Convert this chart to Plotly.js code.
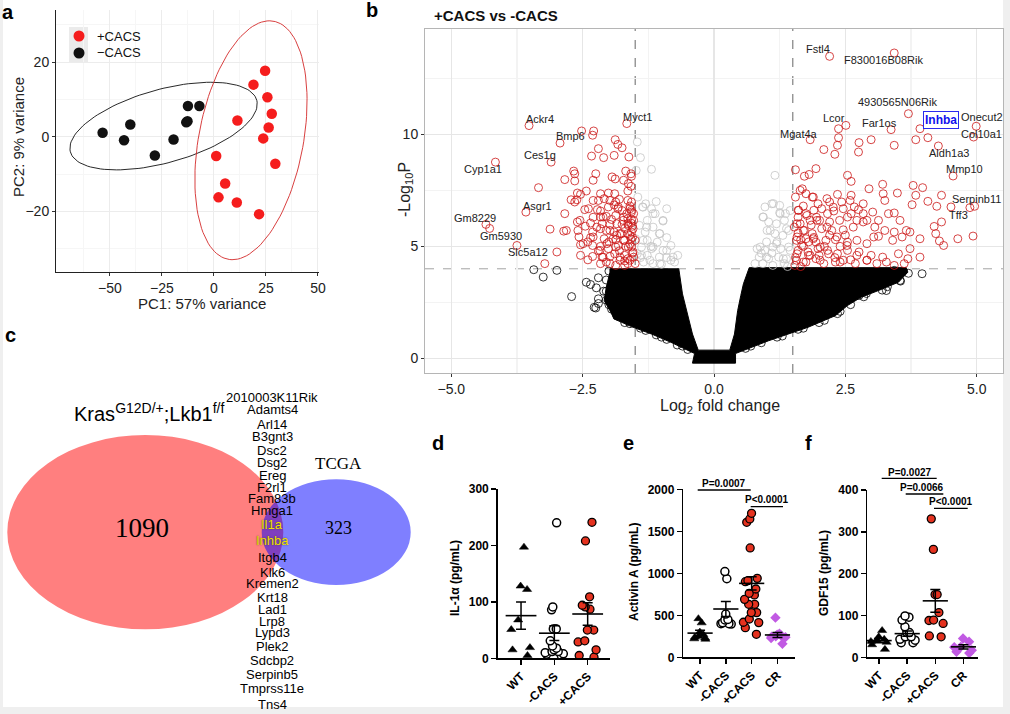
<!DOCTYPE html>
<html><head><meta charset="utf-8">
<script src="https://cdn.plot.ly/plotly-3.0.1.min.js"></script>
<style>html,body{margin:0;padding:0;background:#efefef}#chart{width:1010px;height:714px}</style>
</head><body><div id="chart"></div>
<script>
// ---------- Panel a : PCA ----------
const pcaPlusX  = [24.6, 19.0, 25.7, 27.8, 26.3, 23.7, 11.3, 1.1, 29.5, 5.4, 2.2, 11.0, 21.7];
const pcaPlusY  = [17.7, 14.0, 10.6, 6.2, 2.5, -0.4, 4.4, -5.1, -7.2, -12.5, -16.2, -17.6, -20.7];
const pcaMinusX = [-53.5, -43.2, -40.2, -28.4, -19.4, -13.3, -12.7, -12.5, -7.0];
const pcaMinusY = [1.1, -0.9, 3.3, -5.0, -0.7, 3.9, 4.2, 8.3, 8.3];
// confidence ellipses: centre and two conjugate semi-axes
const ellMinus = {c:[-24.2, 2.9], u:[44.8, 6.9], v:[-4.5, 9.5]};
const ellPlus  = {c:[17.8, -0.9], u:[11.7, 31.8], v:[24.3, -3.6]};

// ---------- Panel b : volcano ----------
const redLeftLFC = [-2.52,-2.29,-2.31,-1.88,-1.83,-1.75,-2.20,-2.33,-2.10,-1.90,
 -1.62,-1.68,-1.58,-1.57,-2.67,-2.65,-2.25,-2.84,-2.65,-2.30,
 -1.94,-1.88,-1.72,-1.63,-1.58,-3.34,-2.60,-2.43,-2.16,-2.01,
 -1.89,-1.64,-2.72,-2.61,-2.54,-2.65,-2.30,-2.20,-2.09,-1.98,
 -1.87,-1.64,-1.57,-2.46,-2.39,-2.22,-2.16,-2.01,-1.83,-1.60,
 -1.57,-1.53,-2.84,-2.16,-2.05,-1.87,-1.72,-1.64,-1.57,-2.60,
 -2.35,-2.13,-1.98,-1.75,-1.64,-1.58,-1.53,-3.12,-2.86,-2.59,
 -2.31,-2.16,-2.05,-1.90,-1.79,-1.64,-1.57,-2.57,-2.35,-2.09,
 -1.87,-1.72,-1.58,-2.54,-2.31,-2.16,-2.01,-1.87,-1.68,-1.57,
 -2.99,-2.54,-2.31,-2.13,-1.98,-1.79,-1.64,-1.53,-3.22,-2.16,
 -1.87,-1.64,-1.75,-1.95,-1.70,-1.85,-2.00,-1.60,-1.80,-2.20,
 -1.70,-2.40,-2.05,-1.60,-1.80,-2.30,-2.45,-2.40,-1.55,-1.55,-1.55,-1.90];
const redLeftP = [10.15,10.15,9.96,9.76,9.55,9.40,9.36,9.03,8.96,9.06,
 8.99,8.36,8.24,8.13,8.36,8.24,8.24,7.98,7.92,7.95,
 8.10,8.01,7.95,7.80,7.68,7.62,7.38,7.47,7.35,7.38,
 7.35,7.47,7.08,7.08,7.32,6.98,7.05,7.05,7.13,7.05,
 6.98,7.05,6.98,6.64,6.68,6.64,6.58,6.76,6.68,6.68,
 6.53,6.46,6.46,6.31,6.34,6.38,6.31,6.24,6.19,6.09,
 6.04,6.01,5.98,5.98,6.01,6.04,6.16,5.77,5.68,5.71,
 5.64,5.79,5.71,5.64,5.57,5.57,5.64,5.42,5.39,5.34,
 5.30,5.27,5.34,5.07,5.04,5.00,4.90,4.97,5.00,4.97,
 4.75,4.60,4.55,4.52,4.55,4.52,4.45,4.52,4.23,4.23,
 4.15,4.23,6.60,6.20,5.80,5.50,5.20,5.10,4.80,4.80,
 4.35,4.40,4.30,6.80,7.10,6.30,5.90,5.20,5.90,5.40,4.70,6.85];
const redLeftDenseLFC = [-1.66,-1.57,-1.73,-1.85,-1.63,-1.54,-1.98,-1.76,-1.60,-1.92,-1.70,-1.50,-2.04,-1.82,-1.63,-1.54,
 -1.89,-1.70,-2.11,-1.79,-1.60,-1.98,-1.50,-1.70,-2.17,-2.30,-2.23,-2.11,-1.82,-2.55,-2.49,-2.81];
const redLeftDenseP = [6.46,6.61,6.16,6.01,5.94,5.79,5.71,5.57,5.49,5.34,5.27,5.27,5.12,5.04,4.97,4.75,
 4.67,4.60,4.52,4.38,4.38,4.23,4.23,4.15,4.82,5.42,5.86,6.31,6.75,6.16,5.12,5.71];
const redRightLFC = [1.55,1.72,1.81,1.94,2.09,2.30,2.35,2.37,2.37,2.54,2.61,2.75,2.76,2.99,3.43,3.84,4.07,
 1.68,1.75,1.87,1.98,2.15,2.20,2.35,2.43,2.61,2.67,2.84,2.95,3.21,3.22,3.25,3.49,3.79,3.97,3.84,4.07,4.33,4.24,3.77,4.51,
 1.60,1.75,1.90,2.05,2.16,2.28,2.46,2.61,2.75,3.02,3.32,3.43,3.54,3.13,2.91,2.72,2.54,2.39,2.20,2.01,1.83,1.64,1.53,1.72,1.87,2.05,2.24,2.46,2.65,2.84,3.06,3.25,3.43,3.66,3.73,3.92,4.19,4.33,4.22,4.29,4.37,4.64,4.93,
 1.57,1.75,1.94,2.13,2.31,2.54,2.72,2.91,3.13,3.40,3.58,3.73,1.60,1.79,1.98,2.16,2.35,2.54,2.76,2.99,3.21,3.51,3.69,3.92,1.57,1.75,1.94,2.09,2.31,2.46,2.69,2.91,3.10,3.28,3.43,3.62,
 1.60,1.70,1.55,1.65,1.80,1.90,2.00,1.85,1.60,1.70,1.55,2.10,2.20,2.40,2.30,1.65,1.95,1.80,2.50,2.60];
const redRightP = [8.42,8.13,8.21,8.47,9.32,9.11,9.51,9.85,10.25,8.17,7.90,9.21,9.63,9.76,9.51,9.76,9.85,
 7.57,7.35,7.20,6.90,7.13,6.98,7.32,6.98,7.28,6.76,6.90,7.57,7.77,7.35,7.05,7.38,7.72,7.62,7.28,7.01,7.28,6.79,6.86,6.76,
 6.61,6.46,6.61,6.68,6.46,6.58,6.68,6.46,6.64,6.53,6.46,6.49,6.16,6.16,6.16,6.16,6.31,6.16,6.09,6.16,6.16,6.01,5.86,5.71,5.57,5.79,5.71,5.74,5.86,6.09,5.86,5.71,5.64,5.71,5.64,5.34,5.89,6.09,5.57,5.24,5.04,5.34,5.46,
 5.27,5.34,5.19,5.27,5.30,5.19,5.27,5.12,5.45,5.27,5.42,4.90,4.82,4.75,4.90,4.82,4.67,4.82,4.75,4.60,4.52,4.67,4.45,4.52,4.38,4.30,4.45,4.23,4.30,4.38,4.23,4.38,4.23,4.30,4.15,4.23,
 5.60,5.00,4.50,4.10,4.60,5.40,4.60,5.95,6.30,6.80,7.20,5.00,5.50,5.00,4.50,5.30,6.30,5.20,5.50,4.40];
const redRightDenseLFC = [1.61,1.77,1.58,1.96,1.70,2.15,1.58,1.89,2.34,1.67,2.02,2.53,1.58,1.83,2.18,2.72,1.70,2.02,2.40,2.91,1.54,2.27,2.59,2.84,3.04,1.64,1.89];
const redRightDenseP = [6.61,6.38,6.01,6.16,5.71,5.86,5.42,5.34,5.42,5.04,4.97,5.04,4.67,4.60,4.67,4.60,4.30,4.38,4.30,4.38,4.15,6.75,7.05,6.46,5.42,7.50,7.20];
const labelGenes = ['Fstl4','F830016B08Rik','4930565N06Rik','Inhba','Onecut2','Col10a1','Aldh1a3','Mmp10','Serpinb11','Tff3','Lcor','Far1os','Mgat4a',
 'Myct1','Ackr4','Bmp6','Ces1g','Cyp1a1','Asgr1','Gm8229','Gm5930','Slc5a12'];
const labelLFC = [2.20,3.43,3.70,3.92,4.99,4.94,4.27,4.55,4.96,4.87,2.51,3.37,1.83,
 -1.66,-3.52,-2.93,-3.10,-4.16,-3.58,-4.34,-4.27,-3.75];
const labelP = [13.48,13.63,10.92,10.25,10.36,9.88,9.48,8.14,6.79,6.73,10.40,10.21,9.76,
 10.48,10.39,9.61,8.76,8.76,6.53,5.98,5.80,5.04];
const greyLFC = [-1.46,-1.40,-1.19,-1.48,-1.36,-1.19,-0.90,-1.12,-1.27,-0.97,-1.42,-1.16,-1.31,-1.04,-1.49,-1.27,-1.08,-0.90,-1.38,-1.19,-0.97,-0.82,-1.46,-1.27,-1.04,-0.69,-0.82,-1.34,-1.16,
 -1.30,-1.10,-1.45,-1.20,-1.00,-0.90,-1.40,-0.75,
 -1.35,-1.16,-0.97,-1.28,-1.03,-1.35,-1.16,-0.90,-1.38,-1.22,-1.03,-0.78,
 1.16,1.10,0.97,1.25,1.36,0.93,1.04,1.19,1.34,1.01,1.16,1.31,1.42,0.82,0.97,1.12,1.27,1.42,0.86,1.04,1.23,1.38,0.93,1.12,1.34,
 1.00,1.20,1.45,1.25,0.90,1.40,1.10,
 1.13,0.94,1.26,1.07,1.38,0.88,1.19,1.45,1.00,1.32,0.78];
const greyP = [9.66,8.96,8.44,8.39,6.76,6.68,6.68,6.46,6.16,6.13,5.94,5.86,5.64,5.57,5.34,5.27,5.19,5.39,4.97,4.90,4.82,5.04,4.67,4.60,4.52,4.60,4.38,4.30,4.23,
 6.90,7.00,7.20,5.00,4.20,4.50,4.50,4.30,
 6.75,6.46,6.16,5.86,5.57,5.27,4.97,4.82,4.60,4.38,4.23,4.52,
 8.17,6.90,6.76,6.83,6.46,6.31,6.09,6.01,6.16,5.71,5.57,5.49,5.71,4.90,4.82,4.97,4.90,4.97,4.52,4.45,4.52,4.45,4.23,4.15,4.23,
 5.20,5.20,6.60,6.50,4.70,4.10,4.70,
 6.91,6.31,6.46,5.71,5.79,4.97,5.12,4.82,4.52,4.45,4.23];
const blackLFC = [-3.43,-3.25,-2.99,-2.71,-2.43,-2.24,-2.28,-2.20,3.96,3.28,3.13,3.54,3.43,2.91,2.61,2.76,
 -1.70,-1.40,-1.00,-0.60,0.70,1.20,1.60,2.00,2.40,2.90,3.30,-2.00,-2.05,-2.20,-2.35,-2.20,-2.25,
 -2.00,-2.05,-2.10,-2.05,-1.95,-1.85,-1.60,-1.30,-1.10,-0.90,-0.70,-0.50,
 0.60,0.90,1.30,1.70,2.10,2.35,2.60,2.85,3.20,3.55,3.70];
const blackP = [3.96,3.63,3.93,2.76,3.40,3.15,2.28,2.66,3.78,3.03,3.25,3.48,3.93,3.63,3.03,2.81,
 1.60,1.35,0.95,0.55,0.55,0.95,1.30,1.60,2.10,2.90,3.20,2.40,3.00,3.60,3.30,2.45,2.25,
 3.90,3.50,3.00,2.60,2.20,1.90,1.55,1.25,1.05,0.85,0.60,0.40,
 0.45,0.70,1.00,1.35,1.70,2.00,2.40,2.75,3.05,3.45,3.80];
// envelope of the dense black (non-significant) cloud
const coreLFC = [-1.98,-0.67,-0.60,-0.49,-0.41,-0.30,0.30,0.39,0.45,0.51,0.56,0.67,3.66,3.69,3.51,3.13,2.80,2.54,2.31,1.79,1.04,0.41,0.41,-0.41,-0.37,-0.82,-1.19,-1.57,-1.90,-1.98,-2.09,-2.05,-1.98];
const coreP   = [4.00,4.00,2.88,1.84,1.09,0.37,0.37,1.09,2.13,2.81,3.33,4.05,4.05,3.85,3.40,3.03,2.73,2.36,1.91,1.39,0.79,0.22,-0.21,-0.21,0.22,0.72,1.09,1.42,1.76,2.13,2.58,3.18,3.85];

// ---------- Panel c : Venn ----------
const vennLeftCount = 1090, vennRightCount = 323;
const sharedGenes = ['2010003K11Rik','Adamts4','Arl14','B3gnt3','Dsc2','Dsg2','Ereg','F2rl1','Fam83b','Hmga1','Il1a','Inhba',
 'Itgb4','Klk6','Kremen2','Krt18','Lad1','Lrp8','Lypd3','Plek2','Sdcbp2','Serpinb5','Tmprss11e','Tns4'];
const highlightGenes = ['Il1a','Inhba'];

// ---------- Panels d, e, f ----------
const il1aCats = ['WT','-CACS','+CACS'];
const il1aWT = [197,128,122,68,51,19,15,5];
const il1aMinus = [240,91,86,52,52,52,31,22,18,15,12,12,10,8,7,5];
const il1aPlus = [241,208,109,94,91,87,50,50,31,29,15,5,2];
const il1aMean = [75.6,44.5,78.5];
const il1aSem  = [24,13,20];

const cats4 = ['WT','-CACS','+CACS','CR'];
const actWT = [460,410,300,270,250,240,230,220,215];
const actMinus = [1020,935,515,450,445,410,400,395,400];
const actPlus = [1714,1647,1607,1302,940,913,900,813,762,742,690,631,631,532,532,456,417,413,353,274];
const actCR = [472,280,270,260,250,245,240,230,160];
const actMean = [288,575,880,266];
const actSem  = [35,88,80,30];

const gdfWT = [64,49,43,41,38,36,30,19];
const gdfMinus = [99,96,89,73,59,59,49,49,43,41,35,35];
const gdfPlus = [331,258,150,150,107,89,88,81,51,49];
const gdfCR = [45,37,25,24,17,13,10];
const gdfMean = [40,56.6,135,25];
const gdfSem  = [5,6,27,5];

// ================= drawing =================
const W = 1010, H = 714;
const px = x => x / W, py = y => 1 - y / H;
const FONT = 'Liberation Sans, Arial, sans-serif';
const RED = '#e5321f', PURPLE = '#c15ae3';

function ellipse(e, n) {
  const xs = [], ys = [];
  for (let i = 0; i <= n; i++) {
    const t = 2 * Math.PI * i / n;
    xs.push(e.c[0] + Math.cos(t) * e.u[0] + Math.sin(t) * e.v[0]);
    ys.push(e.c[1] + Math.cos(t) * e.u[1] + Math.sin(t) * e.v[1]);
  }
  return {xs, ys};
}
const eM = ellipse(ellMinus, 120), eP = ellipse(ellPlus, 120);

const traces = [];
// panel a
traces.push({type:'scatter', mode:'lines', x:eM.xs, y:eM.ys, xaxis:'x', yaxis:'y', line:{color:'#111', width:0.9}, hoverinfo:'skip', showlegend:false});
traces.push({type:'scatter', mode:'lines', x:eP.xs, y:eP.ys, xaxis:'x', yaxis:'y', line:{color:'#d42a2a', width:0.9}, hoverinfo:'skip', showlegend:false});
traces.push({type:'scatter', mode:'markers', x:pcaMinusX, y:pcaMinusY, xaxis:'x', yaxis:'y', marker:{color:'#111', size:10.5}, showlegend:false});
traces.push({type:'scatter', mode:'markers', x:pcaPlusX, y:pcaPlusY, xaxis:'x', yaxis:'y', marker:{color:'#f51d1d', size:10.5}, showlegend:false});

// panel b
traces.push({type:'scatter', mode:'lines', x:coreLFC.concat([coreLFC[0]]), y:coreP.concat([coreP[0]]), fill:'toself', fillcolor:'#000', line:{color:'#000', width:1}, xaxis:'x2', yaxis:'y2', hoverinfo:'skip', showlegend:false});
const openM = (c) => ({symbol:'circle-open', size:8, color:c, line:{width:0.8, color:c}});
traces.push({type:'scatter', mode:'markers', x:greyLFC, y:greyP, xaxis:'x2', yaxis:'y2', marker:openM('#c4c4c4'), showlegend:false});
traces.push({type:'scatter', mode:'markers', x:blackLFC, y:blackP, xaxis:'x2', yaxis:'y2', marker:openM('#000'), showlegend:false});
traces.push({type:'scatter', mode:'markers',
  x:redLeftLFC.concat(redLeftDenseLFC, redRightLFC, redRightDenseLFC, labelLFC),
  y:redLeftP.concat(redLeftDenseP, redRightP, redRightDenseP, labelP),
  xaxis:'x2', yaxis:'y2', marker:openM('#cc1616'), showlegend:false});

// panels d,e,f
function strip(ax, cat, vals, kind) {
  const styles = {
    tri:{symbol:'triangle-up', size:8, color:'#000', line:{color:'#000', width:0.5}},
    open:{symbol:'circle', size:8, color:'#fff', line:{color:'#000', width:1.5}},
    red:{symbol:'circle', size:8, color:RED, line:{color:'#000', width:1.3}},
    cr:{symbol:'diamond', size:8, color:PURPLE, line:{color:PURPLE, width:0}}
  };
  return {type:'box', x:vals.map(() => cat), y:vals, xaxis:'x'+ax, yaxis:'y'+ax, boxpoints:'all', jitter:1, pointpos:0,
    width:0.8, fillcolor:'rgba(0,0,0,0)', line:{color:'rgba(0,0,0,0)', width:0}, whiskerwidth:0,
    marker:styles[kind], hoverinfo:'skip', showlegend:false};
}
function meanSem(ax, cats, mean, sem, size) {
  return {type:'scatter', mode:'markers', x:cats, y:mean, xaxis:'x'+ax, yaxis:'y'+ax, cliponaxis:false,
    marker:{symbol:'line-ew-open', size:size, color:'#000', line:{width:1.6, color:'#000'}},
    error_y:{type:'data', array:sem, visible:true, width:5, thickness:1.5, color:'#000'}, hoverinfo:'skip', showlegend:false};
}
traces.push(strip(3,'WT',il1aWT,'tri'), strip(3,'-CACS',il1aMinus,'open'), strip(3,'+CACS',il1aPlus,'red'));
traces.push(meanSem(3, il1aCats, il1aMean, il1aSem, 22));
traces.push(strip(4,'WT',actWT,'tri'), strip(4,'-CACS',actMinus,'open'), strip(4,'+CACS',actPlus,'red'), strip(4,'CR',actCR,'cr'));
traces.push(meanSem(4, cats4, actMean, actSem, 18));
traces.push(strip(5,'WT',gdfWT,'tri'), strip(5,'-CACS',gdfMinus,'open'), strip(5,'+CACS',gdfPlus,'red'), strip(5,'CR',gdfCR,'cr'));
traces.push(meanSem(5, cats4, gdfMean, gdfSem, 18));

// ---------- axes ----------
const axA = {showline:true, linecolor:'#222', linewidth:1, ticks:'outside', ticklen:3, tickcolor:'#333', zeroline:false,
  showgrid:true, gridcolor:'#ececec', tickfont:{family:FONT, size:14, color:'#222'}};
const axB = {showline:true, mirror:true, linecolor:'#b5b5b5', linewidth:1, ticks:'outside', ticklen:3, tickcolor:'#333', zeroline:false,
  showgrid:true, gridcolor:'#e6e6e6', gridwidth:1.2, tickfont:{family:FONT, size:14, color:'#222'}};
const axCatX = {type:'category', showline:true, linecolor:'#000', linewidth:1.5, ticks:'outside', ticklen:5, tickwidth:1.5, tickcolor:'#000',
  showgrid:false, zeroline:false, tickangle:-45, tickfont:{family:FONT, size:12, color:'#000', weight:'bold'}};
const axValY = {showline:true, linecolor:'#000', linewidth:1.5, ticks:'outside', ticklen:5, tickwidth:1.5, tickcolor:'#000',
  showgrid:false, zeroline:false, tickfont:{family:FONT, size:12, color:'#000', weight:'bold'}};

const layout = {
  width:W, height:H, margin:{l:0, r:0, t:0, b:0}, paper_bgcolor:'#efefef', plot_bgcolor:'rgba(0,0,0,0)',
  boxmode:'overlay', showlegend:false, font:{family:FONT},
  xaxis: Object.assign({}, axA, {domain:[px(56), px(319)], range:[-75.9, 50.5], tickvals:[-50,-25,0,25,50], anchor:'y',
    minor:{showgrid:true, gridcolor:'#f6f6f6', tickvals:[-62.5,-37.5,-12.5,12.5,37.5], ticks:''}}),
  yaxis: Object.assign({}, axA, {domain:[py(272), py(10)], range:[-36.2, 34], tickvals:[-20,0,20], anchor:'x',
    minor:{showgrid:true, gridcolor:'#f6f6f6', tickvals:[-30,-10,10,30], ticks:''}}),
  xaxis2: Object.assign({}, axB, {domain:[px(425), px(1003)], range:[-5.5, 5.5], tickvals:[-5,-2.5,0,2.5,5], tickformat:'.1f', anchor:'y2',
    minor:{showgrid:true, gridcolor:'#f3f3f3', tickvals:[-3.75,-1.25,1.25,3.75], ticks:''}}),
  yaxis2: Object.assign({}, axB, {domain:[py(373), py(29)], range:[-0.65, 14.7], tickvals:[0,5,10], anchor:'x2',
    minor:{showgrid:true, gridcolor:'#f3f3f3', tickvals:[2.5,7.5,12.5], ticks:''}}),
  xaxis3: Object.assign({}, axCatX, {domain:[px(497.7), px(610)], categoryorder:'array', categoryarray:il1aCats, range:[-0.7, 2.67], anchor:'y3'}),
  yaxis3: Object.assign({}, axValY, {domain:[py(658.3), py(489)], range:[0, 300], tickvals:[0,100,200,300], anchor:'x3'}),
  xaxis4: Object.assign({}, axCatX, {domain:[px(683.3), px(795)], categoryorder:'array', categoryarray:cats4, range:[-0.65, 3.68], anchor:'y4'}),
  yaxis4: Object.assign({}, axValY, {domain:[py(657.3), py(489.3)], range:[0, 2000], tickvals:[0,500,1000,1500,2000], anchor:'x4'}),
  xaxis5: Object.assign({}, axCatX, {domain:[px(867.3), px(978.3)], categoryorder:'array', categoryarray:cats4, range:[-0.42, 3.53], anchor:'y5'}),
  yaxis5: Object.assign({}, axValY, {domain:[py(657.3), py(490)], range:[0, 400], tickvals:[0,100,200,300,400], anchor:'x5'}),
  shapes: [], annotations: []
};
const S = layout.shapes, A = layout.annotations;

// white figure sheet
S.push({type:'rect', xref:'paper', yref:'paper', x0:px(3), x1:px(1003), y0:py(707), y1:py(0), fillcolor:'#fff', line:{width:0}, layer:'below'});
// panel a legend
S.push({type:'rect', xref:'paper', yref:'paper', x0:px(69), x1:px(88), y0:py(63), y1:py(27), fillcolor:'#ebebeb', line:{width:0}, layer:'below'});
S.push({type:'circle', xref:'paper', yref:'paper', x0:px(73.5), x1:px(84.5), y0:py(41.5), y1:py(30.5), fillcolor:'#f51d1d', line:{width:0}});
S.push({type:'circle', xref:'paper', yref:'paper', x0:px(73.5), x1:px(84.5), y0:py(58.5), y1:py(47.5), fillcolor:'#111', line:{width:0}});
A.push({xref:'paper', yref:'paper', x:px(95), y:py(36), text:'+CACS', showarrow:false, xanchor:'left', yanchor:'middle', font:{family:FONT, size:13, color:'#111'}});
A.push({xref:'paper', yref:'paper', x:px(95), y:py(53), text:'\u2212CACS', showarrow:false, xanchor:'left', yanchor:'middle', font:{family:FONT, size:13, color:'#111'}});
A.push({xref:'paper', yref:'paper', x:px(202), y:py(303), text:'PC1: 57% variance', showarrow:false, font:{family:FONT, size:15, color:'#222'}});
A.push({xref:'paper', yref:'paper', x:px(18), y:py(137), text:'PC2: 9% variance', textangle:-90, showarrow:false, font:{family:FONT, size:15, color:'#222'}});

// panel b thresholds & titles
S.push({type:'line', xref:'x2', yref:'y2 domain', x0:-1.5, x1:-1.5, y0:0, y1:1, line:{color:'#555', width:0.9, dash:'dash'}, layer:'below'});
S.push({type:'line', xref:'x2', yref:'y2 domain', x0:1.5, x1:1.5, y0:0, y1:1, line:{color:'#555', width:0.9, dash:'dash'}, layer:'below'});
S.push({type:'line', xref:'x2 domain', yref:'y2', x0:0, x1:1, y0:4, y1:4, line:{color:'#999', width:0.9, dash:'dash'}, layer:'below'});
A.push({xref:'paper', yref:'paper', x:px(432), y:py(15), text:'<b>+CACS vs -CACS</b>', showarrow:false, xanchor:'left', yanchor:'middle', font:{family:FONT, size:15, color:'#111'}});
A.push({xref:'paper', yref:'paper', x:px(406), y:py(190), text:'-Log<sub>10</sub>P', textangle:-90, showarrow:false, font:{family:FONT, size:16, color:'#222'}});
A.push({xref:'paper', yref:'paper', x:px(720), y:py(406), text:'Log<sub>2</sub> fold change', showarrow:false, font:{family:FONT, size:16, color:'#222'}});
const labelShift = {
  'Fstl4':[-12,7],'F830016B08Rik':[-11,-7],'4930565N06Rik':[-11,12],'Inhba':[21,9],'Onecut2':[6,9],'Col10a1':[8,3],
  'Aldh1a3':[11,-7],'Mmp10':[11,7],'Serpinb11':[2,7],'Tff3':[-11,-7],'Lcor':[-12,7],'Far1os':[-12,7],'Mgat4a':[-11,6],
  'Myct1':[11,7],'Ackr4':[11,7],'Bmp6':[10,7],'Ces1g':[-11,7],'Cyp1a1':[-12,-7],'Asgr1':[12,6],'Gm8229':[-11,6],
  'Gm5930':[11,-8],'Slc5a12':[11,-7]};
labelGenes.forEach((g, i) => {
  const sh = labelShift[g];
  const a = {xref:'x2', yref:'y2', x:labelLFC[i], y:labelP[i], text:g, showarrow:false, xshift:sh[0], yshift:sh[1],
    font:{family:FONT, size:11, color:'#222'}};
  if (g === 'Inhba') {
    a.text = '<b>Inhba</b>'; a.font = {family:FONT, size:12, color:'#1010ee'};
    a.bordercolor = '#2a2aee'; a.borderwidth = 1; a.borderpad = 1; a.bgcolor = '#fff';
  }
  A.push(a);
});

// panel c venn
S.push({type:'circle', xref:'paper', yref:'paper', x0:px(7.3), x1:px(283.3), y0:py(629.3), y1:py(435), fillcolor:'rgba(255,0,0,0.5)', line:{width:0}});
S.push({type:'circle', xref:'paper', yref:'paper', x0:px(261.7), x1:px(410.7), y0:py(585), y1:py(479.3), fillcolor:'rgba(0,0,255,0.5)', line:{width:0}});
A.push({xref:'paper', yref:'paper', x:px(149), y:py(427), yanchor:'bottom', text:'Kras<sup>G12D/+</sup>;Lkb1<sup>f/f</sup>', showarrow:false, font:{family:FONT, size:20, color:'#000'}});
A.push({xref:'paper', yref:'paper', x:px(142), y:py(528), text:String(vennLeftCount), showarrow:false, font:{family:'Liberation Serif, Times New Roman, serif', size:27, color:'#000'}});
A.push({xref:'paper', yref:'paper', x:px(338), y:py(528), text:String(vennRightCount), showarrow:false, font:{family:'Liberation Serif, Times New Roman, serif', size:18, color:'#000'}});
A.push({xref:'paper', yref:'paper', x:px(338), y:py(463), text:'TCGA', showarrow:false, font:{family:'Liberation Serif, Times New Roman, serif', size:17, color:'#000'}});
const geneRowY = [397,409.5,424,436.7,450,462.7,475,487.3,499,510,524,540.7,557.3,572.3,583.3,597.7,609.3,621.7,632.7,646,660,674,688.3,704];
sharedGenes.forEach((g, i) => {
  const hi = highlightGenes.includes(g);
  const f = {family:FONT, size:13, color: hi ? '#f2e000' : '#000'};
  if (hi) f.shadow = '0px 0px 1.5px #333';
  A.push({xref:'paper', yref:'paper', x:px(272), y:py(geneRowY[i]), text:g, showarrow:false, font:f});
});

// panel d/e/f titles
A.push({xref:'paper', yref:'paper', x:px(455), y:py(578), text:'<b>IL-1\u03b1 (pg/mL)</b>', textangle:-90, showarrow:false, font:{family:FONT, size:12, color:'#000'}});
A.push({xref:'paper', yref:'paper', x:px(634), y:py(572), text:'<b>Activin A (pg/mL)</b>', textangle:-90, showarrow:false, font:{family:FONT, size:12, color:'#000'}});
A.push({xref:'paper', yref:'paper', x:px(824), y:py(573), text:'<b>GDF15 (pg/mL)</b>', textangle:-90, showarrow:false, font:{family:FONT, size:12, color:'#000'}});

// significance bars
function pbar(x0, x1, y, txt, tx, ty) {
  S.push({type:'line', xref:'paper', yref:'paper', x0:px(x0), x1:px(x1), y0:py(y), y1:py(y), line:{color:'#000', width:1.3}});
  A.push({xref:'paper', yref:'paper', x:px(tx), y:py(ty), text:'<b>'+txt+'</b>', showarrow:false, font:{family:FONT, size:10, color:'#000'}});
}
pbar(697.7, 750.7, 490, 'P=0.0007', 724, 483.5);
pbar(750.7, 783, 506.7, 'P&lt;0.0001', 766.7, 500);
pbar(881.7, 936.7, 478.3, 'P=0.0027', 910, 472);
pbar(905.7, 943.3, 494, 'P=0.0066', 921.7, 487.5);
pbar(934, 967.7, 508.3, 'P&lt;0.0001', 950.7, 501.8);

// panel letters
[['a',8,12],['b',372,10],['c',10,335],['d',438,443],['e',628,443],['f',808,443]].forEach(p => {
  A.push({xref:'paper', yref:'paper', x:px(p[1]), y:py(p[2]), text:'<b>'+p[0]+'</b>', showarrow:false, font:{family:FONT, size:20, color:'#000'}});
});

A.forEach(a => { if (!a.xanchor) a.xanchor = 'center'; if (!a.yanchor) a.yanchor = 'middle'; });

Plotly.newPlot('chart', traces, layout, {staticPlot:true, displayModeBar:false});
</script></body></html>
